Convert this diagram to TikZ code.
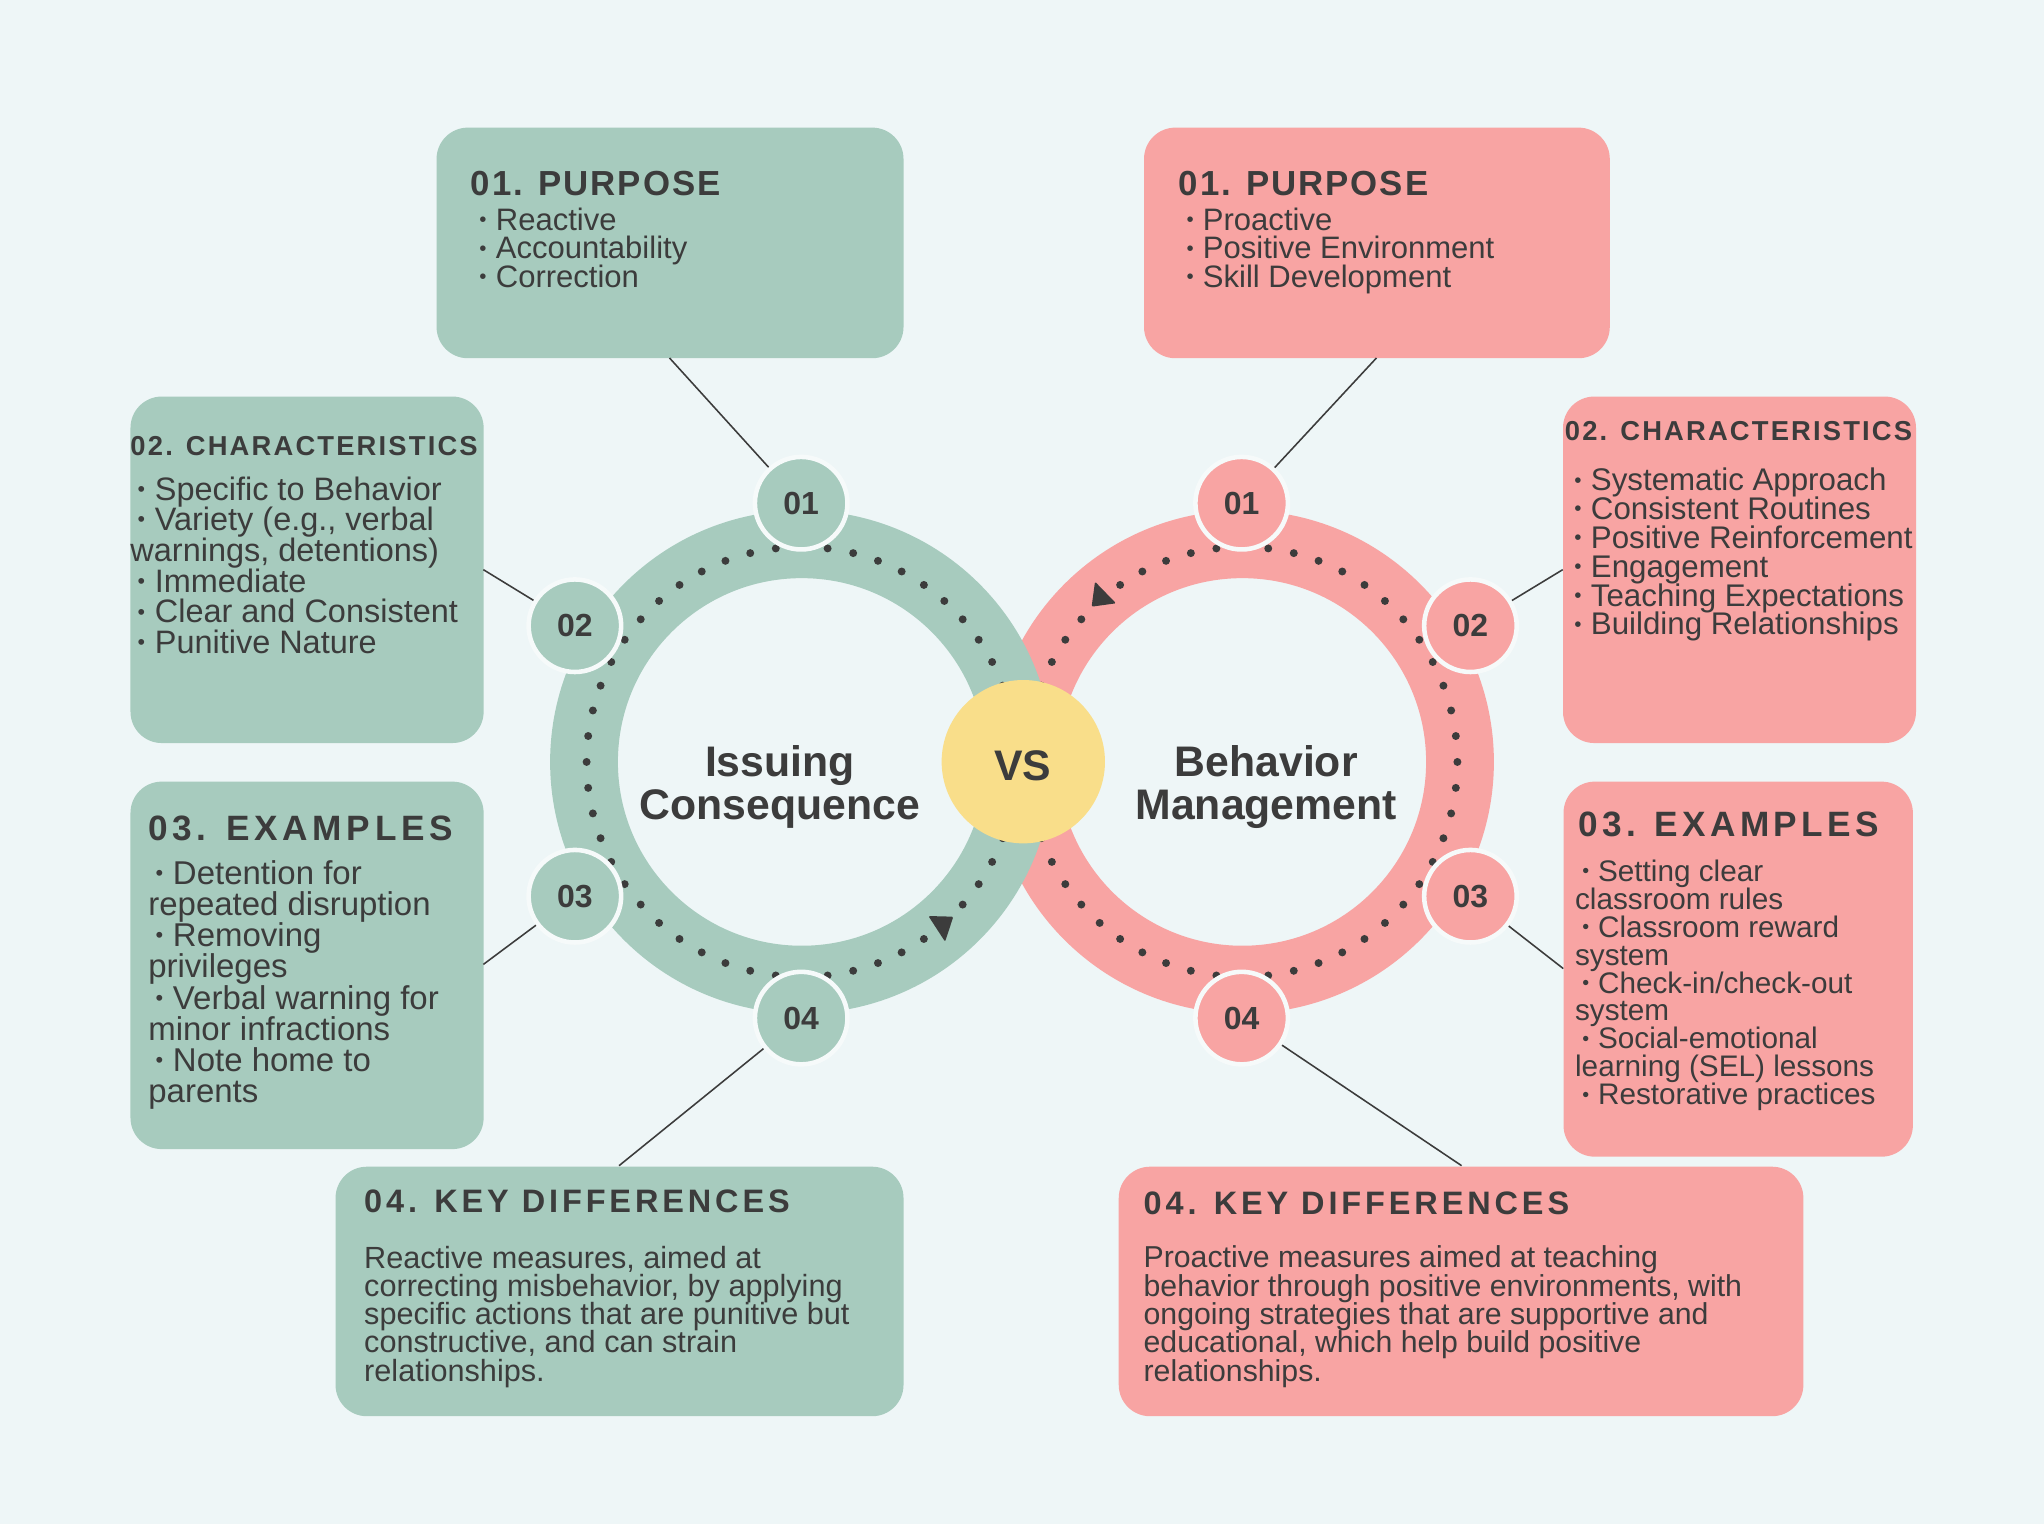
\documentclass[tikz,border=0pt]{standalone}
\usepackage{fontspec}
\usepackage{graphicx}
\setmainfont{Liberation Sans}
\definecolor{bgc}{HTML}{EEF6F7}
\definecolor{grn}{HTML}{A7CBBE}
\definecolor{pnk}{HTML}{F8A4A3}
\definecolor{ylw}{HTML}{F9DE8A}
\definecolor{ink}{HTML}{3C3C3C}
\definecolor{rimc}{HTML}{F6FAFA}
\newcommand\tlines[2]{\vtop{\baselineskip=#1pt\lineskiplimit=-1000pt\lineskip=0pt #2}}
\newcommand\Lx[1]{\hbox{#1}}
\newcommand\bu{\makebox[0.53em][l]{\raisebox{0.12em}{\scalebox{0.66}{•}}}}
\newcommand\ib{\kern5.5pt\bu}
\newcommand\fsz[2]{\fontsize{#1pt}{#2pt}\selectfont}
\tikzset{
  box/.style={rounded corners=24pt, draw=none, anchor=north west, inner sep=0pt},
  txt/.style={anchor=base west, inner sep=0pt, text=ink},
  numc/.style={circle, draw=rimc, line width=3.5pt, minimum size=71pt, inner sep=0pt, text=ink, font=\fsz{24.5}{24.5}\bfseries},
  conn/.style={draw=ink, line width=1.2pt},
  dotc/.style={fill=ink},
  ring/.style={line width=52pt},
  head/.style={anchor=base west, inner sep=0pt, text=ink},
  big/.style={anchor=base, inner sep=0pt, text=ink, font=\fsz{32.8}{32.8}\bfseries}
}
\begin{document}
\begin{tikzpicture}[x=1pt,y=-1pt]
\useasboundingbox (0,0) rectangle (1568,1169.1);
\fill[bgc] (0,0) rectangle (1568,1169.1);
% rings
\coordinate (cl) at (615,584.5);
\coordinate (cr) at (953,584.5);
\draw[ring, pnk] (cr) circle (167pt);
\draw[ring, grn] (cl) circle (167pt);
\foreach \k in {0,...,51}{
  \fill[dotc, shift={(cl)}] ({\k*6.923}:165pt) circle (3.05pt);
  \fill[dotc, shift={(cr)}] ({\k*6.923}:165pt) circle (3.05pt);
}
\fill[ink, rounded corners=1pt] (712.2,702.7) -- (731.3,703.2) -- (725,722.4) -- cycle;
\fill[ink, rounded corners=1pt] (840,446.2) -- (856.1,462.8) -- (837.4,465.4) -- cycle;
% boxes
\node[box, fill=grn, minimum width=358.2pt, minimum height=176.9pt] (L1) at (334.7,97.7) {};
\node[box, fill=pnk, minimum width=357.3pt, minimum height=176.9pt] (R1) at (877.4,97.7) {};
\node[box, fill=grn, minimum width=270.9pt, minimum height=265.8pt] (L2) at (99.9,304) {};
\node[box, fill=pnk, minimum width=270.8pt, minimum height=265.8pt] (R2) at (1198.8,304) {};
\node[box, fill=grn, minimum width=270.9pt, minimum height=281.9pt] (L3) at (99.9,599.4) {};
\node[box, fill=pnk, minimum width=268pt, minimum height=287.7pt] (R3) at (1199.2,599.4) {};
\node[box, fill=grn, minimum width=435.7pt, minimum height=191.4pt] (L4) at (257.2,894.8) {};
\node[box, fill=pnk, minimum width=525.2pt, minimum height=191.4pt] (R4) at (858,894.8) {};
% number circles
\node[numc, fill=grn] (L01) at (614.6,386) {01};
\node[numc, fill=grn] (L02) at (441,480) {02};
\node[numc, fill=grn] (L03) at (441,687.5) {03};
\node[numc, fill=grn] (L04) at (614.6,781) {04};
\node[numc, fill=pnk] (R01) at (952.5,386) {01};
\node[numc, fill=pnk] (R02) at (1128,480) {02};
\node[numc, fill=pnk] (R03) at (1128,687.5) {03};
\node[numc, fill=pnk] (R04) at (952.5,781) {04};
% connectors
\coordinate (cL1) at (513.6,274.6);
\coordinate (cL2) at (370.8,437);
\coordinate (cL3) at (370.8,739.8);
\coordinate (cL4) at (474.9,894.2);
\coordinate (cR1) at (1055.9,274.6);
\coordinate (cR2) at (1198.8,437);
\coordinate (cR3) at (1199.2,743);
\coordinate (cR4) at (1121.2,894.2);
\draw[conn] (cL1) -- (L01);
\draw[conn] (cL2) -- (L02);
\draw[conn] (cL3) -- (L03);
\draw[conn] (cL4) -- (L04);
\draw[conn] (cR1) -- (R01);
\draw[conn] (cR2) -- (R02);
\draw[conn] (cR3) -- (R03);
\draw[conn] (cR4) -- (R04);
% VS
\node[circle, fill=ylw, minimum size=125.3pt, inner sep=0pt] (VS) at (785,584.3) {};
\node[big, anchor=center] (VSt) at (784.4,587.4) {VS};
\node[big] (IC1) at (598.3,595.8) {Issuing};
\node[big] (IC2) at (598.3,628.7) {Consequence};
\node[big] (BM1) at (971.3,595.8) {Behavior};
\node[big] (BM2) at (971.3,628.7) {Management};
% headings
\node[head, font=\fsz{26.7}{26.7}\bfseries\addfontfeature{LetterSpace=5.6}] (L1h) at (361,149.6) {01. PURPOSE};
\node[head, font=\fsz{26.7}{26.7}\bfseries\addfontfeature{LetterSpace=5.6}] (R1h) at (904,149.6) {01. PURPOSE};
\node[head, font=\fsz{21}{21}\bfseries\addfontfeature{LetterSpace=7.9}] (L2h) at (99.9,349.2) {02. CHARACTERISTICS};
\node[head, font=\fsz{21}{21}\bfseries\addfontfeature{LetterSpace=7.9}] (R2h) at (1200.3,338) {02. CHARACTERISTICS};
\node[head, font=\fsz{27}{27}\bfseries\addfontfeature{LetterSpace=13.5}] (L3h) at (113.6,645) {03. EXAMPLES};
\node[head, font=\fsz{27}{27}\bfseries\addfontfeature{LetterSpace=12.4}] (R3h) at (1210.5,641.7) {03. EXAMPLES};
\node[head, font=\fsz{24.9}{24.9}\bfseries\addfontfeature{LetterSpace=12}] (L4h) at (279.2,930) {04. KEY DIFFERENCES};
\node[head, font=\fsz{24.9}{24.9}\bfseries\addfontfeature{LetterSpace=12}] (R4h) at (877.1,932) {04. KEY DIFFERENCES};
% bodies
\node[txt, font=\fsz{23.8}{22}] (L1b) at (367.6,176.5) {\tlines{22}{\Lx{\bu Reactive}\Lx{\bu Accountability}\Lx{\bu Correction}}};
\node[txt, font=\fsz{23.8}{22}] (R1b) at (910,176.5) {\tlines{22}{\Lx{\bu Proactive}\Lx{\bu Positive Environment}\Lx{\bu Skill Development}}};
\node[txt, font=\fsz{24.9}{23.56}] (L2b) at (99.9,383.6) {\tlines{23.56}{\Lx{\ib Specific to Behavior}\Lx{\ib Variety (e.g., verbal}\Lx{warnings, detentions)}\Lx{\ib Immediate}\Lx{\ib Clear and Consistent}\Lx{\ib Punitive Nature}}};
\node[txt, font=\fsz{24}{22.1}] (R2b) at (1207.5,376.6) {\tlines{22.1}{\Lx{\bu Systematic Approach}\Lx{\bu Consistent Routines}\Lx{\bu Positive Reinforcement}\Lx{\bu Engagement}\Lx{\bu Teaching Expectations}\Lx{\bu Building Relationships}}};
\node[txt, font=\fsz{25.3}{23.9}] (L3b) at (113.6,678.5) {\tlines{23.9}{\Lx{\ib Detention for}\Lx{repeated disruption}\Lx{\ib Removing}\Lx{privileges}\Lx{\ib Verbal warning for}\Lx{minor infractions}\Lx{\ib Note home to}\Lx{parents}}};
\node[txt, font=\fsz{22.8}{21.4}] (R3b) at (1208.1,676.2) {\tlines{21.4}{\Lx{\ib Setting clear}\Lx{classroom rules}\Lx{\ib Classroom reward}\Lx{system}\Lx{\ib Check-in/check-out}\Lx{system}\Lx{\ib Social-emotional}\Lx{learning (SEL) lessons}\Lx{\ib Restorative practices}}};
\node[txt, font=\fsz{23.5}{21.7}] (L4b) at (279.2,972.8) {\tlines{21.7}{\Lx{Reactive measures, aimed at}\Lx{correcting misbehavior, by applying}\Lx{specific actions that are punitive but}\Lx{constructive, and can strain}\Lx{relationships.}}};
\node[txt, font=\fsz{23.2}{21.7}] (R4b) at (877.1,972.6) {\tlines{21.7}{\Lx{Proactive measures aimed at teaching}\Lx{behavior through positive environments, with}\Lx{ongoing strategies that are supportive and}\Lx{educational, which help build positive}\Lx{relationships.}}};
\end{tikzpicture}
\end{document}
